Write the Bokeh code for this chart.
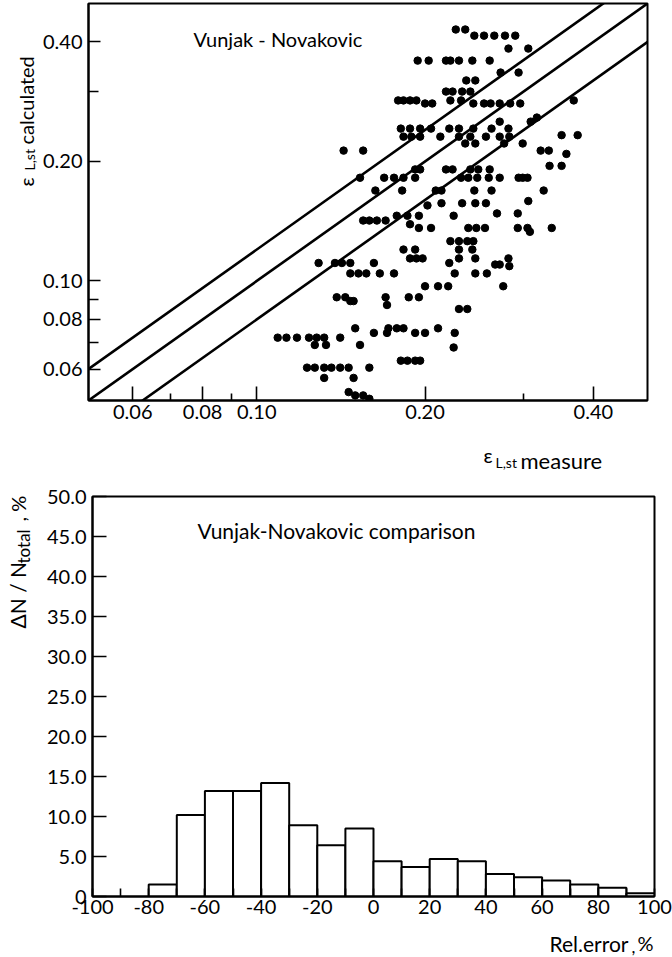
import math
from bokeh.plotting import figure
from bokeh.models import FixedTicker, Label, CustomJSTickFormatter
from bokeh.layouts import column, row
from bokeh.embed import file_html
from bokeh.resources import INLINE

FONT = "Lato"

# ---------------- top panel: calculated vs measured (log-log) ----------------
X_RANGE = (0.05, 0.5)
Y_RANGE = (0.05, 0.5)
X_TICKS = [0.06, 0.08, 0.10, 0.20, 0.40]
X_MINOR = [0.07, 0.09, 0.30]
Y_TICKS = [0.06, 0.08, 0.10, 0.20, 0.40]
Y_MINOR = [0.07, 0.09, 0.30]
LINE_FACTORS = [1.2, 1.0, 0.8]

# calculated values appear in discrete levels; measured values per level
ROW_Y = [0.430, 0.415, 0.385, 0.359, 0.335, 0.320, 0.300, 0.285, 0.280, 0.258, 0.252,
         0.242, 0.233, 0.231, 0.222, 0.213, 0.209, 0.195, 0.191, 0.182, 0.169, 0.159,
         0.157, 0.155, 0.148, 0.146, 0.142, 0.139, 0.136, 0.133, 0.126, 0.120, 0.114,
         0.111, 0.110, 0.109, 0.1045, 0.097, 0.091, 0.089, 0.087, 0.085, 0.076, 0.074,
         0.072, 0.069, 0.068, 0.063, 0.0605, 0.057, 0.0525, 0.0515, 0.0505]
ROW_X = [
    [0.227, 0.236],
    [0.245, 0.255, 0.266, 0.278, 0.290],
    [0.282, 0.306],
    [0.194, 0.203, 0.218, 0.222, 0.230, 0.243, 0.261],
    [0.273, 0.294],
    [0.237, 0.246],
    [0.218, 0.224, 0.233, 0.241],
    [0.179, 0.183, 0.188, 0.193, 0.222, 0.232, 0.369],
    [0.200, 0.206, 0.244, 0.255, 0.262, 0.272, 0.284, 0.296],
    [0.317],
    [0.272, 0.309],
    [0.181, 0.188, 0.196, 0.205, 0.221, 0.230, 0.244, 0.263, 0.282],
    [0.351, 0.375],
    [0.183, 0.189, 0.196, 0.213, 0.230, 0.241, 0.257, 0.272, 0.283],
    [0.236, 0.246, 0.277, 0.299],
    [0.143, 0.155, 0.322, 0.333],
    [0.358],
    [0.334, 0.351],
    [0.192, 0.196, 0.218, 0.224, 0.241, 0.249, 0.261],
    [0.153, 0.169, 0.176, 0.183, 0.192, 0.232, 0.239, 0.248, 0.260, 0.272, 0.294, 0.299, 0.305],
    [0.163, 0.182, 0.209, 0.214, 0.245, 0.263, 0.326],
    [0.306],
    [0.214, 0.233, 0.246, 0.257],
    [0.202],
    [0.269, 0.293],
    [0.178, 0.186, 0.195, 0.225],
    [0.155, 0.159, 0.164, 0.170],
    [0.188],
    [0.195, 0.205, 0.239, 0.247, 0.256, 0.293, 0.305, 0.337],
    [0.308],
    [0.222, 0.230, 0.238, 0.244],
    [0.183, 0.192, 0.230, 0.243],
    [0.188, 0.193, 0.198, 0.230, 0.246, 0.282],
    [0.129, 0.138, 0.142, 0.147, 0.162, 0.221],
    [0.267, 0.272],
    [0.283],
    [0.147, 0.152, 0.157, 0.166, 0.176, 0.226, 0.246, 0.258],
    [0.200, 0.211, 0.220, 0.276],
    [0.139, 0.144, 0.170, 0.187, 0.195],
    [0.147, 0.149],
    [0.171],
    [0.230, 0.238],
    [0.150, 0.172, 0.178, 0.183, 0.211],
    [0.162, 0.171, 0.192, 0.200, 0.226],
    [0.109, 0.113, 0.118, 0.124, 0.128, 0.132, 0.141],
    [0.127, 0.133, 0.153],
    [0.225],
    [0.181, 0.186, 0.192, 0.196],
    [0.123, 0.127, 0.132, 0.136, 0.141, 0.146, 0.159],
    [0.132, 0.149],
    [0.146],
    [0.150, 0.155],
    [0.159],
]

# ---------------- bottom panel: histogram of relative error ----------------
HIST_EDGES = [-80, -70, -60, -50, -40, -30, -20, -10, 0, 10, 20, 30, 40, 50, 60, 70, 80, 90, 100]
HIST_FREQ = [1.5, 10.2, 13.2, 13.2, 14.2, 8.9, 6.4, 8.5, 4.4, 3.7, 4.7, 4.4, 2.8, 2.4, 2.0, 1.5, 1.1, 0.4]
HIST_X_TICKS = [-100, -80, -60, -40, -20, 0, 20, 40, 60, 80, 100]
HIST_X_MINOR = [-90, -70, -50, -30, -10, 10, 30, 50, 70, 90]
HIST_Y_TICKS = [0, 5, 10, 15, 20, 25, 30, 35, 40, 45, 50]


def style_fig(p):
    p.grid.visible = False
    p.outline_line_color = "black"
    p.outline_line_width = 2
    p.background_fill_color = "white"
    p.border_fill_color = "white"


def style_axis(ax, ticks, minor, code, major_in, minor_in, standoff):
    ax.ticker = FixedTicker(ticks=ticks, minor_ticks=minor)
    ax.formatter = CustomJSTickFormatter(code=code)
    ax.major_tick_in = major_in
    ax.major_tick_out = 0
    ax.minor_tick_in = minor_in
    ax.minor_tick_out = 0
    ax.major_tick_line_width = 1.6
    ax.minor_tick_line_width = 1.6
    ax.major_tick_line_color = "black"
    ax.minor_tick_line_color = "black"
    ax.axis_line_width = 2
    ax.axis_line_color = "black"
    ax.major_label_text_font = FONT
    ax.major_label_text_font_size = "20px"
    ax.major_label_text_color = "black"
    ax.major_label_standoff = standoff


def strip(w, h, x0, x1, y0, y1):
    """Blank figure whose data coordinates equal page pixels of its frame (axis titles)."""
    s = figure(width=w, height=h, x_range=(x0, x1), y_range=(y1, y0),
               min_border=0, x_axis_location=None, y_axis_location=None,
               toolbar_location=None, output_backend="svg")
    s.title.visible = False
    s.grid.visible = False
    s.outline_line_color = None
    s.background_fill_color = "white"
    s.border_fill_color = "white"
    return s


def lab(p, x, y, text, size, angle=0.0, align="left"):
    p.add_layout(Label(x=x, y=y, text=text,
                       text_font=FONT, text_font_size=f"{size}px", text_color="black",
                       angle=angle, text_align=align, text_baseline="alphabetic"))


STRIP_W = 38
TOP_H = 480
P1_LEFT, P1_RIGHT = 88, 647     # page x of the top frame
P2_LEFT, P2_RIGHT = 92, 654     # page x of the histogram frame

# ---- top figure ----
p1 = figure(width=672 - STRIP_W, height=430, x_axis_type="log", y_axis_type="log",
            x_range=X_RANGE, y_range=Y_RANGE, output_backend="svg", toolbar_location=None,
            min_border_left=P1_LEFT - STRIP_W, min_border_right=672 - P1_RIGHT,
            min_border_top=3, min_border_bottom=30)
style_fig(p1)
style_axis(p1.xaxis[0], X_TICKS, X_MINOR, "return tick.toFixed(2);", 14, 7, 4)
style_axis(p1.yaxis[0], Y_TICKS, Y_MINOR, "return tick.toFixed(2);", 12, 10, 6)

line_x = [X_RANGE[0] * 0.8, X_RANGE[1] * 1.25]
for f in LINE_FACTORS:
    p1.line(line_x, [f * v for v in line_x], line_color="black", line_width=2.6)

xs, ys = [], []
for yv, r in zip(ROW_Y, ROW_X):
    for xv in r:
        xs.append(xv)
        ys.append(yv)
p1.scatter(xs, ys, size=7.5, fill_color="black", line_color="black", line_width=1)

p1.add_layout(Label(x=105, y=362, x_units="screen", y_units="screen",
                    text="Vunjak - Novakovic", text_font=FONT, text_font_size="20px",
                    text_color="black", text_baseline="alphabetic"))

# y title strip (page x 0..38, y 0..TOP_H)
sA = strip(STRIP_W, TOP_H, 0, STRIP_W, 0, TOP_H)
lab(sA, 25, 186, "ε", 20, math.pi / 2)
lab(sA, 29, 170, "L,st", 14, math.pi / 2)
lab(sA, 25, 144, "calculated", 20, math.pi / 2)

# x title strip: its frame is aligned with the top frame (page x 88..647, y 430..TOP_H)
sB = strip(672 - STRIP_W, TOP_H - 430, P1_LEFT, P1_RIGHT, 430, TOP_H)
lab(sB, 483, 454, "ε", 20)
lab(sB, 495, 462, "L,st", 14)
lab(sB, 520, 460, "measure", 22)

# ---- bottom figure ----
p2 = figure(width=672 - STRIP_W, height=923 - TOP_H, x_range=(-100, 100), y_range=(0, 50),
            output_backend="svg", toolbar_location=None,
            min_border_left=P2_LEFT - STRIP_W, min_border_right=672 - P2_RIGHT,
            min_border_top=496 - TOP_H, min_border_bottom=27)
style_fig(p2)
style_axis(p2.xaxis[0], HIST_X_TICKS, HIST_X_MINOR, "return tick.toFixed(0);", 8, 8, 3)
style_axis(p2.yaxis[0], HIST_Y_TICKS, [], "return tick == 0 ? '0' : tick.toFixed(1);", 14, 0, 6)

p2.quad(left=HIST_EDGES[:-1], right=HIST_EDGES[1:], bottom=0, top=HIST_FREQ,
        fill_color="white", line_color="black", line_width=2)
p2.add_layout(Label(x=105, y=366, x_units="screen", y_units="screen",
                    text="Vunjak-Novakovic comparison", text_font=FONT, text_font_size="21px",
                    text_color="black", text_baseline="alphabetic"))

# y title strip (page x 0..38, y TOP_H..957)
sC = strip(STRIP_W, 957 - TOP_H, 0, STRIP_W, TOP_H, 957)
lab(sC, 17, 628, "ΔN / N", 21, math.pi / 2)
lab(sC, 23, 563, "total", 17, math.pi / 2)
lab(sC, 17, 521, ", %", 20, math.pi / 2)

# x title strip: frame aligned with histogram frame (page x 92..654, y 923..957)
sD = strip(672 - STRIP_W, 34, P2_LEFT, P2_RIGHT, 923, 957)
lab(sD, 628, 943, "Rel.error", 21, align="right")
lab(sD, 631, 946, ",", 17)
lab(sD, 637, 942, "%", 20)

layout = column(row(sA, column(p1, sB)), row(sC, column(p2, sD)))
open("out.html", "w").write(file_html(layout, INLINE))
